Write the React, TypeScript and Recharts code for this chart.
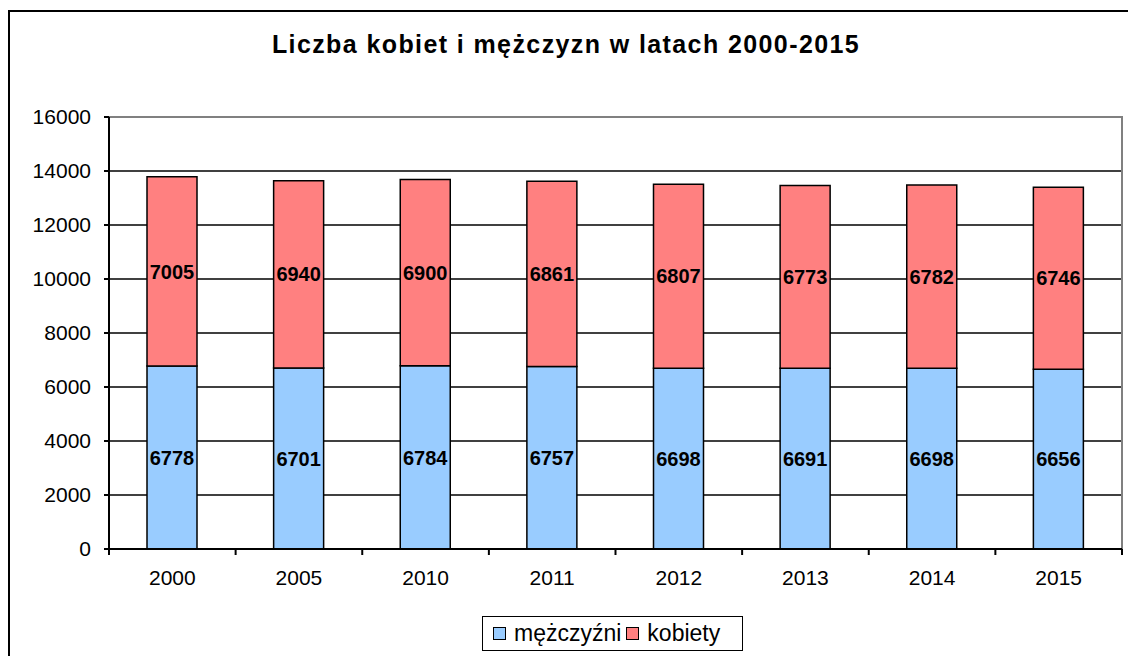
import { Bar, BarChart, CartesianGrid, LabelList, Legend, ReferenceArea, ReferenceLine, XAxis, YAxis } from "recharts";

const years = ["2000", "2005", "2010", "2011", "2012", "2013", "2014", "2015"];
const men = [6778, 6701, 6784, 6757, 6698, 6691, 6698, 6656];
const women = [7005, 6940, 6900, 6861, 6807, 6773, 6782, 6746];
const yTicks = [0, 2000, 4000, 6000, 8000, 10000, 12000, 14000, 16000];

const data = years.map((year, i) => ({ year, men: men[i], women: women[i] }));

const FONT = "'Liberation Sans', Arial, sans-serif";
const BLUE = "#99CCFF";
const RED = "#FF8080";

function YearTick(props: any) {
  const { x, y, payload, index } = props;
  const half = payload && payload.offset ? payload.offset : 63.3;
  const last = index === years.length - 1;
  return (
    <g>
      <line x1={x - half} y1={y} x2={x - half} y2={y + 6} stroke="#000" strokeWidth={2} />
      {last && <line x1={x + half} y1={y} x2={x + half} y2={y + 6} stroke="#000" strokeWidth={2} />}
      <text x={x} y={y + 36} textAnchor="middle" fontSize={21} fill="#000" fontFamily={FONT}>
        {payload.value}
      </text>
    </g>
  );
}

function LegendBox() {
  const item = (color: string, label: string) => (
    <span style={{ display: "inline-flex", alignItems: "center", marginRight: 5 }}>
      <span
        style={{
          display: "inline-block",
          width: 11,
          height: 11,
          background: color,
          border: "1.5px solid #000",
          marginRight: 8,
        }}
      />
      {label}
    </span>
  );
  return (
    <div
      style={{
        width: 249,
        height: 33,
        paddingLeft: 10,
        border: "1px solid #000",
        background: "#fff",
        display: "flex",
        alignItems: "center",
        fontFamily: FONT,
        fontSize: 23,
        color: "#000",
        boxSizing: "content-box",
        whiteSpace: "nowrap",
      }}
    >
      {item(BLUE, "mężczyźni")}
      {item(RED, "kobiety")}
    </div>
  );
}

export default function App() {
  return (
    <div
      style={{
        position: "fixed",
        top: 10,
        left: 8,
        width: 1118,
        height: 644,
        borderLeft: "2px solid #000",
        borderTop: "2px solid #000",
        background: "#fff",
        overflow: "hidden",
      }}
    >
      <div
        style={{
          position: "absolute",
          left: 0,
          width: 1112,
          top: 18,
          textAlign: "center",
          fontFamily: FONT,
          fontWeight: "bold",
          fontSize: 25,
          color: "#000",
          letterSpacing: 1.4,
        }}
      >
        Liczba kobiet i mężczyzn w latach 2000-2015
      </div>
      <BarChart
        width={1118}
        height={644}
        data={data}
        margin={{ top: 105, right: 6, left: 0, bottom: 67 }}
        barCategoryGap={0}
        style={{ position: "absolute", top: 0, left: 0 }}
      >
        <ReferenceArea x1="2000" x2="2015" y1={0} y2={16000} fill="none" stroke="#808080" strokeWidth={2} />
        <CartesianGrid vertical={false} stroke="#000" strokeWidth={1.5} />
        <ReferenceLine y={16000} stroke="#808080" strokeWidth={2} />
        <XAxis
          dataKey="year"
          height={40}
          axisLine={{ stroke: "#000", strokeWidth: 2 }}
          tickLine={false}
          tickSize={0}
          tickMargin={0}
          tick={<YearTick />}
          interval={0}
        />
        <YAxis
          width={99}
          domain={[0, 16000]}
          ticks={yTicks}
          interval={0}
          axisLine={{ stroke: "#000", strokeWidth: 2 }}
          tickLine={{ stroke: "#000", strokeWidth: 2 }}
          tickSize={5}
          tickMargin={13}
          tick={{ fill: "#000", fontSize: 21, fontFamily: FONT }}
        />
        <Legend
          layout="horizontal"
          verticalAlign="middle"
          align="center"
          content={<LegendBox />}
          wrapperStyle={{ top: 604, left: 472, width: 261 }}
        />
        <Bar dataKey="men" name="mężczyźni" stackId="a" fill={BLUE} stroke="#000" strokeWidth={1.5} barSize={50} isAnimationActive={false}>
          <LabelList dataKey="men" position="center" fill="#000" fontSize={20} fontWeight="bold" fontFamily={FONT} />
        </Bar>
        <Bar dataKey="women" name="kobiety" stackId="a" fill={RED} stroke="#000" strokeWidth={1.5} barSize={50} isAnimationActive={false}>
          <LabelList dataKey="women" position="center" fill="#000" fontSize={20} fontWeight="bold" fontFamily={FONT} />
        </Bar>
      </BarChart>
    </div>
  );
}
